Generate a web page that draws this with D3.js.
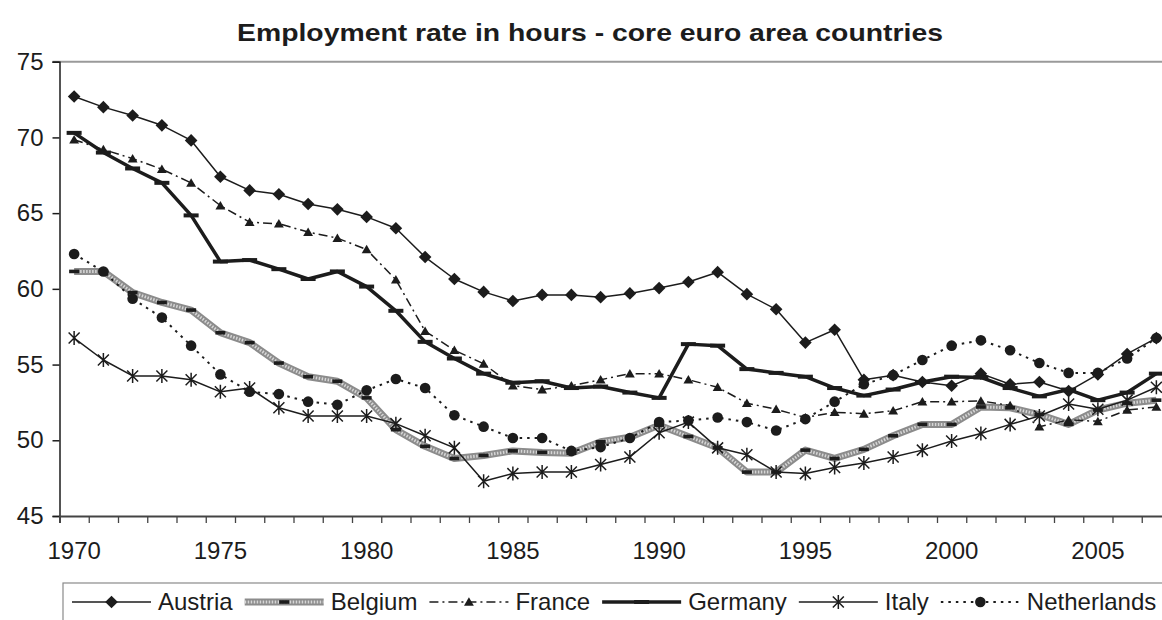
<!DOCTYPE html>
<html>
<head>
<meta charset="utf-8">
<script src="https://cdn.jsdelivr.net/npm/d3@7"></script>
<style>
  html, body { margin: 0; padding: 0; background: #fff; overflow: hidden; }
  svg { display: block; font-family: "Liberation Sans", Arial, sans-serif; }
</style>
</head>
<body>
<svg id="chart" width="1162" height="620"></svg>
<script>
const years = d3.range(1970, 2008);
const yTickValues = [45, 50, 55, 60, 65, 70, 75];
const xLabelYears = [1970, 1975, 1980, 1985, 1990, 1995, 2000, 2005];
const seriesNames = ["Austria", "Belgium", "France", "Germany", "Italy", "Netherlands"];

const austria = [72.7, 72.0, 71.45, 70.8, 69.8, 67.4, 66.5, 66.25, 65.6, 65.25,
  64.75, 64.0, 62.1, 60.65, 59.8, 59.2, 59.6, 59.6, 59.45, 59.7,
  60.05, 60.45, 61.1, 59.65, 58.65, 56.45, 57.3, 54.0, 54.3, 53.85,
  53.6, 54.4, 53.7, 53.85, 53.25, 54.35, 55.7, 56.75];
const belgium = [61.15, 61.15, 59.75, 59.1, 58.6, 57.1, 56.45, 55.1, 54.2, 53.9,
  52.8, 50.7, 49.6, 48.8, 49.0, 49.3, 49.2, 49.15, 49.9, 50.2,
  51.0, 50.25, 49.5, 47.9, 47.9, 49.35, 48.8, 49.4, 50.3, 51.05,
  51.05, 52.2, 52.15, 51.7, 51.05, 52.0, 52.45, 52.65];
const france = [69.85, 69.2, 68.6, 67.9, 67.0, 65.5, 64.4, 64.3, 63.75, 63.35,
  62.6, 60.6, 57.2, 55.95, 55.05, 53.6, 53.35, 53.6, 54.0, 54.4,
  54.4, 54.0, 53.5, 52.45, 52.05, 51.5, 51.85, 51.75, 51.95, 52.55,
  52.55, 52.6, 52.3, 50.9, 51.35, 51.25, 52.0, 52.2];
const germany = [70.3, 69.0, 67.95, 67.0, 64.85, 61.8, 61.9, 61.3, 60.65, 61.15,
  60.15, 58.55, 56.5, 55.4, 54.4, 53.8, 53.9, 53.45, 53.55, 53.15,
  52.8, 56.35, 56.25, 54.7, 54.45, 54.2, 53.45, 52.95, 53.35, 53.85,
  54.2, 54.15, 53.45, 52.9, 53.35, 52.65, 53.15, 54.4];
const italy = [56.75, 55.3, 54.25, 54.25, 54.0, 53.2, 53.45, 52.15, 51.6, 51.6,
  51.6, 51.1, 50.3, 49.5, 47.3, 47.8, 47.9, 47.9, 48.4, 48.9,
  50.5, 51.2, 49.5, 49.05, 47.9, 47.8, 48.2, 48.5, 48.9, 49.35,
  49.95, 50.45, 51.05, 51.6, 52.4, 52.05, 52.65, 53.5];
const netherlands = [62.3, 61.15, 59.35, 58.1, 56.25, 54.35, 53.2, 53.05, 52.55, 52.35,
  53.3, 54.05, 53.45, 51.65, 50.9, 50.15, 50.15, 49.3, 49.55, 50.15,
  51.2, 51.3, 51.5, 51.2, 50.65, 51.4, 52.55, 53.7, 54.3, 55.3,
  56.25, 56.6, 55.95, 55.1, 54.45, 54.45, 55.4, 56.75];

const seriesValues = [austria, belgium, france, germany, italy, netherlands];

// ---- styles ----
const INK = "#1c1c1c";
const styles = {
  Austria:     { width: 1.5, dash: null, marker: "diamond" },
  Belgium:     { width: 7, dash: null, marker: "bbar", textured: true },
  France:      { width: 1.5, dash: "9,4,2,4", marker: "triangle" },
  Germany:     { width: 3.5, dash: null, marker: "gbar" },
  Italy:       { width: 1.5, dash: null, marker: "star" },
  Netherlands: { width: 2, dash: "2.5,5", marker: "circle" }
};

const svg = d3.select("#chart");
const plotLeft = 59.5, plotTop = 61.7, plotBottom = 516;
const bandW = 29.25;
const plotRight = plotLeft + bandW * years.length;

const x = d3.scaleBand().domain(years).range([plotLeft, plotRight]).padding(0);
const xEdge = d3.scaleLinear().domain([0, years.length]).range([plotLeft, plotRight]);
const y = d3.scaleLinear().domain([45, 75]).range([plotBottom, plotTop]);
const cx = yr => x(yr) + x.bandwidth() / 2;

// Title
svg.append("text")
  .attr("x", 590).attr("y", 41)
  .attr("text-anchor", "middle")
  .attr("font-size", 24).attr("font-weight", "bold").attr("fill", INK)
  .attr("textLength", 706).attr("lengthAdjust", "spacingAndGlyphs")
  .text("Employment rate in hours - core euro area countries");

// plot area top border
svg.append("line")
  .attr("x1", plotLeft - 7).attr("x2", 1162)
  .attr("y1", y(75)).attr("y2", y(75))
  .attr("stroke", "#9a9a9a").attr("stroke-width", 2);

// Y axis
const yAxis = svg.append("g")
  .attr("transform", `translate(${plotLeft},0)`)
  .call(d3.axisLeft(y).tickValues(yTickValues).tickSize(7).tickPadding(9).tickFormat(d3.format("d")));
yAxis.select(".domain").attr("stroke", INK).attr("stroke-width", 1.5);
yAxis.selectAll(".tick line").attr("stroke", INK).attr("stroke-width", 1.5);
yAxis.selectAll(".tick text").attr("font-size", 24).attr("fill", INK)
  .attr("font-family", "Liberation Sans, Arial, sans-serif");

// X axis ticks (between categories)
const xAxisTicks = svg.append("g")
  .attr("transform", `translate(0,${plotBottom})`)
  .call(d3.axisBottom(xEdge).tickValues(d3.range(years.length + 1)).tickSize(7).tickFormat(""));
xAxisTicks.select(".domain").attr("stroke", "#444").attr("stroke-width", 2);
xAxisTicks.selectAll(".tick line").attr("stroke", "#444").attr("stroke-width", 1.3);

// X labels
const xLabels = svg.append("g")
  .attr("transform", `translate(0,${plotBottom})`)
  .call(d3.axisBottom(x).tickValues(xLabelYears).tickSize(0).tickPadding(26));
xLabels.select(".domain").remove();
xLabels.selectAll(".tick text").attr("font-size", 24).attr("fill", INK)
  .attr("font-family", "Liberation Sans, Arial, sans-serif");

// Marker drawing
function drawMarker(g, type) {
  if (type === "diamond") {
    g.append("path").attr("d", d3.symbol(d3.symbolSquare, 80)())
      .attr("transform", "rotate(45)").attr("fill", INK);
  } else if (type === "triangle") {
    g.append("path").attr("d", d3.symbol(d3.symbolTriangle, 42)())
      .attr("transform", "translate(0,1)").attr("fill", INK);
  } else if (type === "bbar") {
    g.append("rect").attr("x", -5).attr("y", -1.8).attr("width", 10).attr("height", 3.6).attr("fill", INK);
  } else if (type === "gbar") {
    g.append("rect").attr("x", -7.5).attr("y", -2).attr("width", 15).attr("height", 4).attr("fill", INK);
  } else if (type === "star") {
    g.append("path").attr("d", "M-5.5,-5.5L5.5,5.5M-5.5,5.5L5.5,-5.5M0,-7L0,7")
      .attr("stroke", INK).attr("stroke-width", 1.5).attr("fill", "none");
  } else if (type === "circle") {
    g.append("circle").attr("r", 5.3).attr("fill", INK);
  }
}

const line = d3.line().x(d => cx(d.year)).y(d => y(d.value));

function drawStroke(g, st, pathD) {
  if (st.textured) {
    g.append("path").attr("d", pathD).attr("fill", "none")
      .attr("stroke", "#8c8c8c").attr("stroke-width", st.width).attr("stroke-linejoin", "round");
    g.append("path").attr("d", pathD).attr("fill", "none")
      .attr("stroke", "#d6d6d6").attr("stroke-width", 3).attr("stroke-dasharray", "1.5,1.5")
      .attr("stroke-linejoin", "round");
  } else {
    g.append("path").attr("d", pathD).attr("fill", "none")
      .attr("stroke", INK).attr("stroke-width", st.width)
      .attr("stroke-dasharray", st.dash).attr("stroke-linejoin", "round");
  }
}

seriesNames.forEach((name, i) => {
  const st = styles[name];
  const data = years.map((yr, j) => ({ year: yr, value: seriesValues[i][j] }));
  const g = svg.append("g").attr("class", "series");
  drawStroke(g, st, line(data));
  g.selectAll("g.mk").data(data).enter().append("g").attr("class", "mk")
    .attr("transform", d => `translate(${cx(d.year)},${y(d.value)})`)
    .each(function () { drawMarker(d3.select(this), st.marker); });
});

// Legend
svg.append("rect").attr("x", 63).attr("y", 583).attr("width", 1120).attr("height", 60)
  .attr("fill", "#fff").attr("stroke", "#8a8a8a").attr("stroke-width", 1.2);
const legend = svg.append("g");
let lx = 72;
const ly = 602;
seriesNames.forEach(name => {
  const st = styles[name];
  const g = legend.append("g");
  const sampleLen = 79;
  drawStroke(g, st, `M${lx},${ly}L${lx + sampleLen},${ly}`);
  const mk = g.append("g").attr("transform", `translate(${lx + sampleLen / 2},${ly})`);
  drawMarker(mk, st.marker);
  const t = g.append("text").attr("x", lx + sampleLen + 7).attr("y", ly)
    .attr("dy", "0.35em").attr("font-size", 24).attr("fill", INK).text(name);
  lx = lx + sampleLen + 7 + t.node().getComputedTextLength() + 12;
});
</script>
</body>
</html>
